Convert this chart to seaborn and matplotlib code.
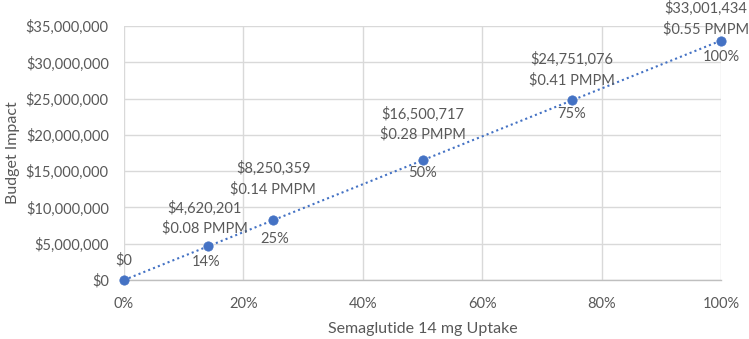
import numpy as np
import pandas as pd
import matplotlib
matplotlib.use("Agg")
import matplotlib.pyplot as plt
from matplotlib.ticker import FuncFormatter
import seaborn as sns

# values
uptake = [0, 14, 25, 50, 75, 100]                 # % uptake of semaglutide 14 mg
budget_impact = [0, 4620201, 8250359, 16500717, 24751076, 33001434]
pmpm = [None, 0.08, 0.14, 0.28, 0.41, 0.55]       # per member per month
pct_labels = ["", "14%", "25%", "50%", "75%", "100%"]

x_ticks = [0, 20, 40, 60, 80, 100]
y_ticks = [0, 5e6, 10e6, 15e6, 20e6, 25e6, 30e6, 35e6]

# label placement (offset points from each marker), like the hand-moved excel labels
top_offsets = [(0, 14.5), (-2, 20.5), (0, 30), (0, 26), (0, 22), (-11, 16)]
pct_offsets = [(0, 0), (-1, -11.5), (1, -13.7), (0, -9.4), (0, -9.4), (0, -11.5)]

df = pd.DataFrame({"uptake": uptake, "impact": budget_impact})

sns.set_style("whitegrid")
plt.rcParams["font.family"] = ["Lato", "DejaVu Sans"]

blue = "#4472C4"
grey = "#595959"

fig = plt.figure(figsize=(7.49, 3.39), dpi=100)
ax = fig.add_axes([0.1656, 0.174, 0.797, 0.749])

# trend line (linear fit, dotted) + markers
sns.regplot(data=df, x="uptake", y="impact", ax=ax, ci=None, scatter=False,
            line_kws=dict(color=blue, linestyle=(0, (1, 1.5)), linewidth=1.5))
sns.scatterplot(data=df, x="uptake", y="impact", ax=ax, color=blue, s=45,
                edgecolor=blue, zorder=5, clip_on=False)

# data labels
for i, (xv, yv) in enumerate(zip(uptake, budget_impact)):
    if pmpm[i] is None:
        txt = f"${yv:,.0f}"
    else:
        txt = f"${yv:,.0f}\n${pmpm[i]:.2f} PMPM"
    ax.annotate(txt, (xv, yv), xytext=top_offsets[i], textcoords="offset points",
                ha="center", va="center", fontsize=10.5, color=grey,
                linespacing=1.5, annotation_clip=False)
    if pct_labels[i]:
        ax.annotate(pct_labels[i], (xv, yv), xytext=pct_offsets[i], textcoords="offset points",
                    ha="center", va="center", fontsize=10.5, color=grey,
                    annotation_clip=False)

ax.set_xlim(0, 100)
ax.set_ylim(0, 35e6)
ax.set_xticks(x_ticks)
ax.set_yticks(y_ticks)
ax.xaxis.set_major_formatter(FuncFormatter(lambda v, p: f"{v:.0f}%"))
ax.yaxis.set_major_formatter(FuncFormatter(lambda v, p: f"${v:,.0f}"))
ax.tick_params(axis="both", labelsize=10.5, colors=grey, length=0)
ax.tick_params(axis="x", pad=12)
ax.tick_params(axis="y", pad=11)

ax.grid(True, color="#d9d9d9", linewidth=1)
for side in ["top", "right", "left"]:
    ax.spines[side].set_visible(False)
ax.spines["bottom"].set_color("#bfbfbf")
ax.spines["bottom"].set_linewidth(1)

ax.set_xlabel("Semaglutide 14 mg Uptake", fontsize=11.5, color=grey, labelpad=8)
ax.set_ylabel("Budget Impact", fontsize=11.5, color=grey, labelpad=4)

fig.savefig("out.png", dpi=100)
